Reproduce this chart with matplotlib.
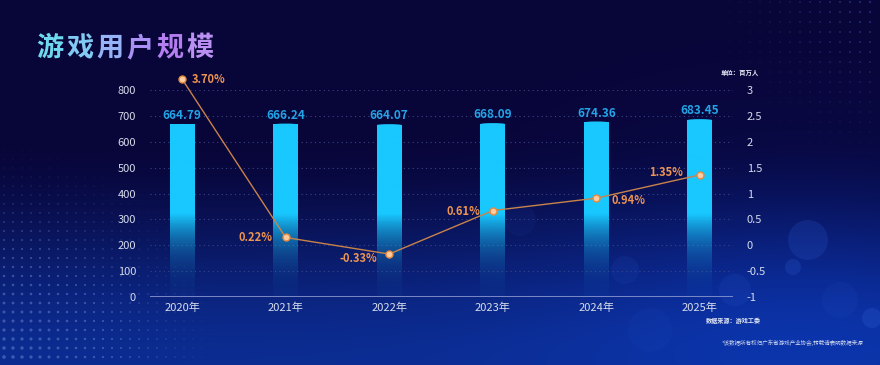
import numpy as np
import matplotlib.pyplot as plt
from matplotlib.patches import Circle, Ellipse

plt.rcParams['font.family'] = ['Noto Sans CJK SC', 'DejaVu Sans']

# chart data
years = ['2020年', '2021年', '2022年', '2023年', '2024年', '2025年']
users = [664.79, 666.24, 664.07, 668.09, 674.36, 683.45]
# growth dots as they sit in the picture, and the labels printed beside them
growth = [3.21, 0.15, -0.17, 0.67, 0.91, 1.36]
growth_text = ['3.70%', '0.22%', '-0.33%', '0.61%', '0.94%', '1.35%']
left_ticks = [0, 100, 200, 300, 400, 500, 600, 700, 800]
right_ticks = [-1, -0.5, 0, 0.5, 1, 1.5, 2, 2.5, 3]

title = '游戏用户规模'
title_colors = ['#6FD8EE', '#80CAF3', '#96B3F8', '#A990F5', '#B47DF0', '#BA90F2']

W, H = 880, 365
fig = plt.figure(figsize=(W / 100, H / 100), dpi=100)

# ---- background ----
bg = fig.add_axes([0, 0, 1, 1])
yy, xx = np.mgrid[0:H, 0:W]
t = np.clip((yy - 130) / 235, 0, 1)
t = t * t * (3 - 2 * t)
top = np.array([8, 5, 56]) / 255
bot = np.array([12, 44, 145]) / 255
img = top[None, None, :] * (1 - t[..., None]) + bot[None, None, :] * t[..., None]
glow = np.exp(-(((xx - 800) / 260) ** 2 + ((yy - 300) / 160) ** 2))
img = img + glow[..., None] * np.array([0.0, 0.04, 0.12])
bg.imshow(np.clip(img, 0, 1), extent=(0, W, H, 0), aspect='auto')
bg.set_xlim(0, W)
bg.set_ylim(H, 0)
bg.axis('off')

# dotted texture bottom-left and top-right
gx, gy = np.meshgrid(np.arange(4, 220, 9), np.arange(150, 365, 9))
d = np.hypot(gx, H - gy)
r = np.clip(1 - d / 250, 0, 1) * 1.9
bg.scatter(gx.ravel(), gy.ravel(), s=(2 * r.ravel() * 0.72) ** 2,
           color='#8EA6E6', alpha=0.38, lw=0)
gx2, gy2 = np.meshgrid(np.arange(700, 880, 10), np.arange(2, 170, 10))
d2 = np.hypot(W - gx2, gy2)
r2 = np.clip(1 - d2 / 220, 0, 1) * 1.3
bg.scatter(gx2.ravel(), gy2.ravel(), s=(2 * r2.ravel() * 0.72) ** 2,
           color='#3C4CA8', alpha=0.45, lw=0)

for cx, cy, rr, a in [(808, 240, 20, 0.22), (793, 267, 8, 0.25), (872, 318, 10, 0.3),
                      (625, 270, 14, 0.12), (520, 220, 16, 0.08), (735, 290, 16, 0.15),
                      (650, 330, 22, 0.08), (840, 300, 18, 0.1)]:
    bg.add_patch(Circle((cx, cy), rr, color='#2A5AD0', alpha=a, lw=0))

# ---- title ----
for i, (ch, c) in enumerate(zip(title, title_colors)):
    fig.text((50 + 30 * i) / W, 1 - 48 / H, ch, color=c, fontsize=19.5,
             fontweight='bold', ha='center', va='center')

# ---- main axes ----
ax = fig.add_axes([150 / W, 1 - 297 / H, 583 / W, 207 / H])
ax.patch.set_alpha(0)
x = np.arange(len(years))
bw = 0.24

for xi, h in zip(x, users):
    n = 200
    v = np.linspace(0, h, n)
    alpha = np.clip(0.03 + 0.97 * (v / 320) ** 2.2, 0, 1)
    grad = np.zeros((n, 1, 4))
    grad[:, 0, 0] = 24 / 255
    grad[:, 0, 1] = 200 / 255
    grad[:, 0, 2] = 255 / 255
    grad[:, 0, 3] = alpha
    ax.imshow(grad, extent=(xi - bw / 2, xi + bw / 2, 0, h), origin='lower',
              aspect='auto', zorder=2)
    ax.add_patch(Ellipse((xi, h), bw, 8, color='#18C8FF', lw=0, zorder=2))
    ax.annotate(f'{h:.2f}', (xi, h), xytext=(0, 3), textcoords='offset pixels',
                ha='center', va='bottom', color='#22A4E6', fontsize=8.5,
                fontweight='bold', zorder=4)

ax.set_xlim(-0.31, 5.32)
ax.set_ylim(0, 800)
ax.set_yticks(left_ticks)
ax.set_xticks(x)
ax.set_xticklabels(years)
ax.tick_params(axis='both', length=0, colors='#D6DCEC', labelsize=8)
ax.tick_params(axis='y', pad=10)
ax.tick_params(axis='x', pad=4)
for s in ax.spines.values():
    s.set_visible(False)
for yv in left_ticks[1:]:
    ax.axhline(yv, color='#3A4588', lw=0.8, ls=(0, (1, 3)), zorder=1)
ax.axhline(0, color='#8D9AD0', lw=1.2, zorder=3)

# ---- growth line ----
ax2 = ax.twinx()
ax2.set_ylim(-1, 3)
ax2.set_yticks(right_ticks)
ax2.set_yticklabels([f'{v:g}' for v in right_ticks])
ax2.tick_params(axis='y', length=0, colors='#D6DCEC', labelsize=8, pad=10)
for s in ax2.spines.values():
    s.set_visible(False)
ax2.plot(x, growth, color='#C9834A', lw=1, marker='o', ms=5,
         mfc='#FFCBA0', mec='#E8893C', mew=1, clip_on=False, zorder=5)

offsets = [(10, 0, 'left'), (-13, 0, 'right'), (-12, -4, 'right'),
           (-12, -1, 'right'), (15, -2, 'left'), (-17, 2, 'right')]
for xi, yv, txt, (dx, dy, ha) in zip(x, growth, growth_text, offsets):
    ax2.annotate(txt, (xi, yv), xytext=(dx, dy), textcoords='offset pixels',
                 ha=ha, va='center', color='#EE9450', fontsize=8,
                 fontweight='bold', annotation_clip=False, zorder=6)

# ---- notes ----
fig.text(740 / W, 1 - 73 / H, '单位：百万人', color='#E8ECF8', fontsize=4.6,
         fontweight='bold', ha='center', va='center')
fig.text(733 / W, 1 - 321 / H, '数据来源：游戏工委', color='#E0E6F5', fontsize=4.4,
         fontweight='bold', ha='center', va='center')
fig.text(792 / W, 1 - 343 / H, '*该数据所有权归广东省游戏产业协会,转载请表明数据来源',
         color='#D0D8F0', fontsize=4.0, ha='center', va='center')

fig.savefig('out.png', dpi=100)
